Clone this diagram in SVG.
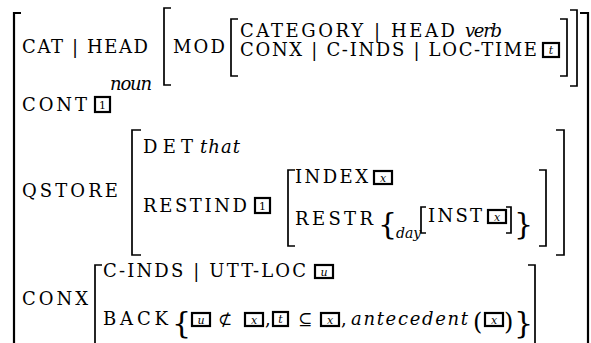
<svg xmlns="http://www.w3.org/2000/svg" width="591" height="343" viewBox="0 0 591 343" font-family="'DejaVu Serif', 'Liberation Serif', serif">
<style>
text{font-family:'DejaVu Serif','Liberation Serif',serif;font-size:18px;fill:#000}
.it{font-style:italic}
.tag{font-size:11px;text-anchor:middle}
.tagi{font-size:11px;font-style:italic;text-anchor:middle}
.br{fill:none;stroke:#000;stroke-width:1.7}
.obr{fill:none;stroke:#000;stroke-width:2.2}
.box{fill:#fff;stroke:#000;stroke-width:2.2}
.big{font-size:30px}
.par{font-size:24px}
.sym{font-size:17px}
.sub{font-size:14px;font-style:italic}
</style>
<g id="outer">
<path class="obr" d="M21,13 H14 V343"/>
<path class="obr" d="M580,13 H588 V343"/>
</g>
<g id="cat">
<text x="22" y="53" textLength="126" lengthAdjust="spacing">CAT | HEAD</text>
<text class="it" x="110" y="90" textLength="42" lengthAdjust="spacing">noun</text>
</g>
<g id="mod">
<path class="br" d="M171,8 H164 V85 H171"/>
<path class="br" d="M570,10 H577 V86 H570"/>
<text x="173" y="53" textLength="52" lengthAdjust="spacing">MOD</text>
</g>
<g id="modval">
<path class="br" d="M238,19 H231 V76 H238"/>
<path class="br" d="M560,19 H567 V76 H560"/>
<text x="240" y="37" textLength="215" lengthAdjust="spacing">CATEGORY | HEAD</text>
<text class="it" x="465" y="37" textLength="37" lengthAdjust="spacing">verb</text>
<text x="240" y="56" textLength="297" lengthAdjust="spacing">CONX | C-INDS | LOC-TIME</text>
<rect class="box" x="543" y="43" width="16" height="14"/>
<text class="tagi" x="551" y="54">t</text>
</g>
<g id="cont">
<text x="22" y="111" textLength="65" lengthAdjust="spacing">CONT</text>
<rect class="box" x="95" y="97" width="15" height="15"/>
<text class="tag" x="102.5" y="109">1</text>
</g>
<g id="qstore">
<text x="22" y="197" textLength="96" lengthAdjust="spacing">QSTORE</text>
<path class="br" d="M141,130 H132 V255 H141"/>
<path class="br" d="M556,130 H564 V255 H556"/>
<text x="143" y="153" textLength="50" lengthAdjust="spacing">DET</text>
<text class="it" x="200" y="153" textLength="40" lengthAdjust="spacing">that</text>
<text x="143" y="212" textLength="104" lengthAdjust="spacing">RESTIND</text>
<rect class="box" x="255" y="198" width="15" height="15"/>
<text class="tag" x="262.5" y="210">1</text>
</g>
<g id="restind">
<path class="br" d="M295,170 H288 V246 H295"/>
<path class="br" d="M539,170 H546 V246 H539"/>
<text x="295" y="183" textLength="73" lengthAdjust="spacing">INDEX</text>
<rect class="box" x="374" y="171" width="18" height="13"/>
<text class="tagi" x="383" y="181.5">x</text>
<text x="295" y="225" textLength="78" lengthAdjust="spacing">RESTR</text>
<text class="big" x="378" y="234">{</text>
<text class="sub" x="396" y="238">day</text>
<path class="br" d="M426,207 H421 V233 H426"/>
<text x="428" y="222" textLength="54" lengthAdjust="spacing">INST</text>
<rect class="box" x="488" y="210" width="18" height="13"/>
<text class="tagi" x="497" y="220.5">x</text>
<path class="br" d="M506,207 H511 V233 H506"/>
<text class="big" x="514" y="234">}</text>
</g>
<g id="conx">
<text x="22" y="305" textLength="66" lengthAdjust="spacing">CONX</text>
<path class="br" d="M102,265 H95 V343"/>
<path class="br" d="M528,265 H535 V343"/>
<text x="103" y="277" textLength="203" lengthAdjust="spacing">C-INDS | UTT-LOC</text>
<rect class="box" x="315" y="265" width="18" height="13"/>
<text class="tagi" x="324" y="275.5">u</text>
<text x="103" y="325" textLength="65" lengthAdjust="spacing">BACK</text>
<text class="big" x="172" y="333">{</text>
<rect class="box" x="192" y="313" width="18" height="13"/>
<text class="tagi" x="201" y="323.5">u</text>
<text class="sym" x="218" y="325">⊄</text>
<rect class="box" x="245" y="313" width="18" height="13"/>
<text class="tagi" x="254" y="323.5">x</text>
<text x="265" y="325">,</text>
<rect class="box" x="273" y="312" width="15" height="14"/>
<text class="tagi" x="280.5" y="323">t</text>
<text class="sym" x="298" y="325">⊆</text>
<rect class="box" x="321" y="313" width="18" height="13"/>
<text class="tagi" x="330" y="323.5">x</text>
<text x="341" y="325">,</text>
<text class="it" x="351" y="325" textLength="117" lengthAdjust="spacing">antecedent</text>
<text class="par" x="473" y="330">(</text>
<rect class="box" x="485" y="313" width="18" height="13"/>
<text class="tagi" x="494" y="323.5">x</text>
<text class="par" x="504" y="330">)</text>
<text class="big" x="514" y="333">}</text>
</g>
</svg>
